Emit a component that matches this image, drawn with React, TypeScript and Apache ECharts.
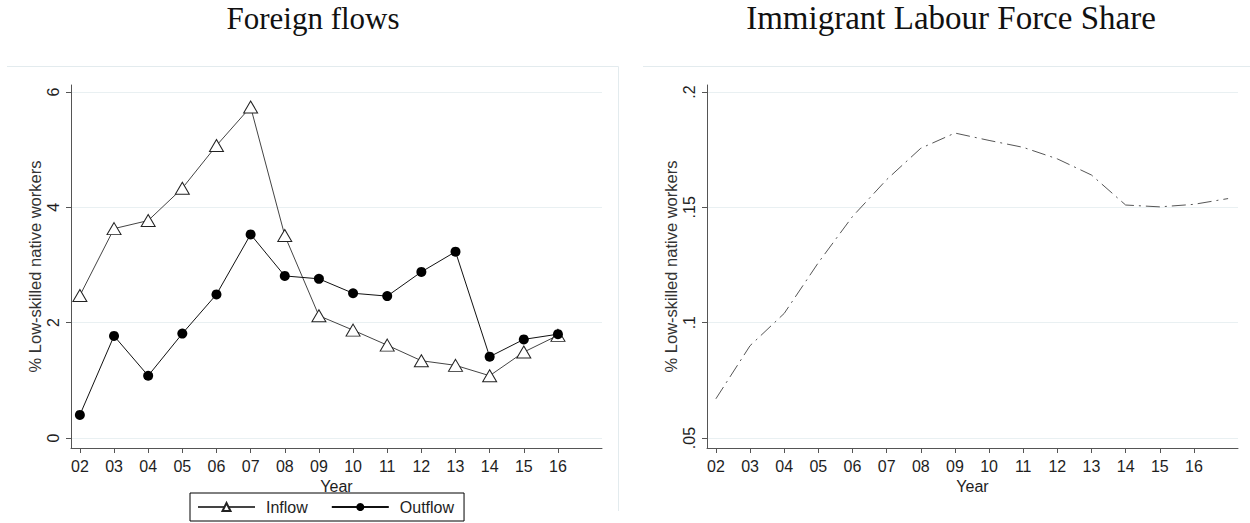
import React, { useEffect, useRef } from "react";
import * as echarts from "echarts";

const years = [2, 3, 4, 5, 6, 7, 8, 9, 10, 11, 12, 13, 14, 15, 16];
const yearLabels = ["02", "03", "04", "05", "06", "07", "08", "09", "10", "11", "12", "13", "14", "15", "16"];
const inflow = [2.47, 3.63, 3.77, 4.33, 5.07, 5.74, 3.51, 2.12, 1.87, 1.61, 1.34, 1.26, 1.08, 1.49, 1.78];
const outflow = [0.4, 1.77, 1.08, 1.81, 2.49, 3.53, 2.81, 2.76, 2.51, 2.46, 2.88, 3.23, 1.41, 1.71, 1.8];
const shareYears = [2, 3, 4, 5, 6, 7, 8, 9, 10, 11, 12, 13, 14, 15, 16, 17];
const share = [0.067, 0.09, 0.104, 0.126, 0.146, 0.162, 0.1756, 0.1822, 0.179, 0.176, 0.171, 0.164, 0.151, 0.1502, 0.1513, 0.1538];
const flowTicks = [0, 2, 4, 6];
const shareTicks = [0.05, 0.1, 0.15, 0.2];
const titles = ["Foreign flows", "Immigrant Labour Force Share"];
const yName = "% Low-skilled native workers";
const xName = "Year";

const SANS = "Liberation Sans, Arial, sans-serif";
const AXIS = "#555";
const GRID = "#e9f0f2";
const TXT = "#1e1e1e";

function xAxis(gridIndex: number) {
  return {
    type: "value",
    gridIndex,
    min: 1.74,
    max: 17.29,
    name: xName,
    nameLocation: "middle",
    nameGap: 23,
    nameTextStyle: { fontSize: 16, color: TXT, fontFamily: SANS },
    axisLine: { show: true, onZero: false, lineStyle: { color: AXIS, width: 1 } },
    axisTick: { show: true, length: 5, customValues: years, lineStyle: { color: AXIS } },
    axisLabel: {
      customValues: years,
      margin: 10,
      fontSize: 16,
      color: TXT,
      fontFamily: SANS,
      formatter: (v: number) => yearLabels[years.indexOf(v)] ?? "",
    },
    splitLine: { show: false },
  };
}

function yAxis(gridIndex: number, min: number, max: number, ticks: number[], fmt: (v: number) => string) {
  return {
    type: "value",
    gridIndex,
    min,
    max,
    name: yName,
    nameLocation: "middle",
    nameGap: 28,
    nameTextStyle: { fontSize: 16.5, color: "#333", fontFamily: SANS },
    axisLine: { show: true, onZero: false, lineStyle: { color: AXIS, width: 1 } },
    axisTick: { show: true, length: 5, customValues: ticks, lineStyle: { color: AXIS } },
    axisLabel: {
      customValues: ticks,
      rotate: 90,
      margin: 10,
      fontSize: 16,
      color: TXT,
      fontFamily: SANS,
      formatter: fmt,
    },
    splitLine: { show: true, lineStyle: { color: GRID, width: 1 } },
  };
}

export default function App() {
  const ref = useRef<HTMLDivElement>(null);
  useEffect(() => {
    if (!ref.current) return;
    const chart = echarts.init(ref.current, undefined, { renderer: "svg" });
    chart.setOption({
      animation: false,
      backgroundColor: "#fff",
      grid: [
        { left: 71, top: 85, width: 531, height: 363 },
        { left: 707, top: 85, width: 531, height: 363 },
      ],
      xAxis: [xAxis(0), xAxis(1)],
      yAxis: [
        yAxis(0, -0.173, 6.12, flowTicks, (v: number) => String(v)),
        yAxis(1, 0.04567, 0.20303, shareTicks, (v: number) => String(v).replace(/^0/, "")),
      ],
      legend: {
        left: 190,
        top: 493,
        orient: "horizontal",
        padding: [6, 10, 6, 7],
        itemWidth: 57,
        itemHeight: 10,
        itemGap: 23,
        borderColor: "#000",
        borderWidth: 1,
        backgroundColor: "#fff",
        textStyle: { fontSize: 16, color: TXT, fontFamily: SANS, padding: [0, 0, 0, 6] },
        data: ["Inflow", "Outflow"],
      },
      graphic: [
        { type: "line", shape: { x1: 7, y1: 66.5, x2: 618.5, y2: 66.5 }, style: { stroke: "#e3ebee", lineWidth: 1 } },
        { type: "line", shape: { x1: 618.5, y1: 66.5, x2: 618.5, y2: 511 }, style: { stroke: "#e3ebee", lineWidth: 1 } },
        { type: "line", shape: { x1: 643, y1: 66.5, x2: 1250, y2: 66.5 }, style: { stroke: "#e3ebee", lineWidth: 1 } },
        {
          type: "text",
          x: 313,
          y: 18,
          style: { text: titles[0], fontSize: 31, fontFamily: "Liberation Serif, serif", fill: "#111", textAlign: "center", textVerticalAlign: "middle" },
        },
        {
          type: "text",
          x: 951,
          y: 18,
          style: { text: titles[1], fontSize: 33, fontFamily: "Liberation Serif, serif", fill: "#111", textAlign: "center", textVerticalAlign: "middle" },
        },
      ],
      series: [
        {
          name: "Inflow",
          type: "line",
          xAxisIndex: 0,
          yAxisIndex: 0,
          data: years.map((y, i) => [y, inflow[i]]),
          symbol: "triangle",
          symbolSize: [14, 12],
          showAllSymbol: true,
          lineStyle: { color: "#444", width: 1 },
          itemStyle: { color: "#fff", borderColor: "#222", borderWidth: 1 },
          z: 2,
        },
        {
          name: "Outflow",
          type: "line",
          xAxisIndex: 0,
          yAxisIndex: 0,
          data: years.map((y, i) => [y, outflow[i]]),
          symbol: "circle",
          symbolSize: 10,
          showAllSymbol: true,
          lineStyle: { color: "#111", width: 1 },
          itemStyle: { color: "#000", borderColor: "#000", borderWidth: 0 },
          z: 3,
        },
        {
          name: "Share",
          type: "line",
          xAxisIndex: 1,
          yAxisIndex: 1,
          data: shareYears.map((y, i) => [y, share[i]]),
          symbol: "none",
          lineStyle: { color: "#555", width: 1, type: [14, 5, 2, 5] },
        },
      ],
    });
    return () => chart.dispose();
  }, []);
  return <div ref={ref} style={{ position: "fixed", left: 0, top: 0, width: 1250, height: 523 }} />;
}
